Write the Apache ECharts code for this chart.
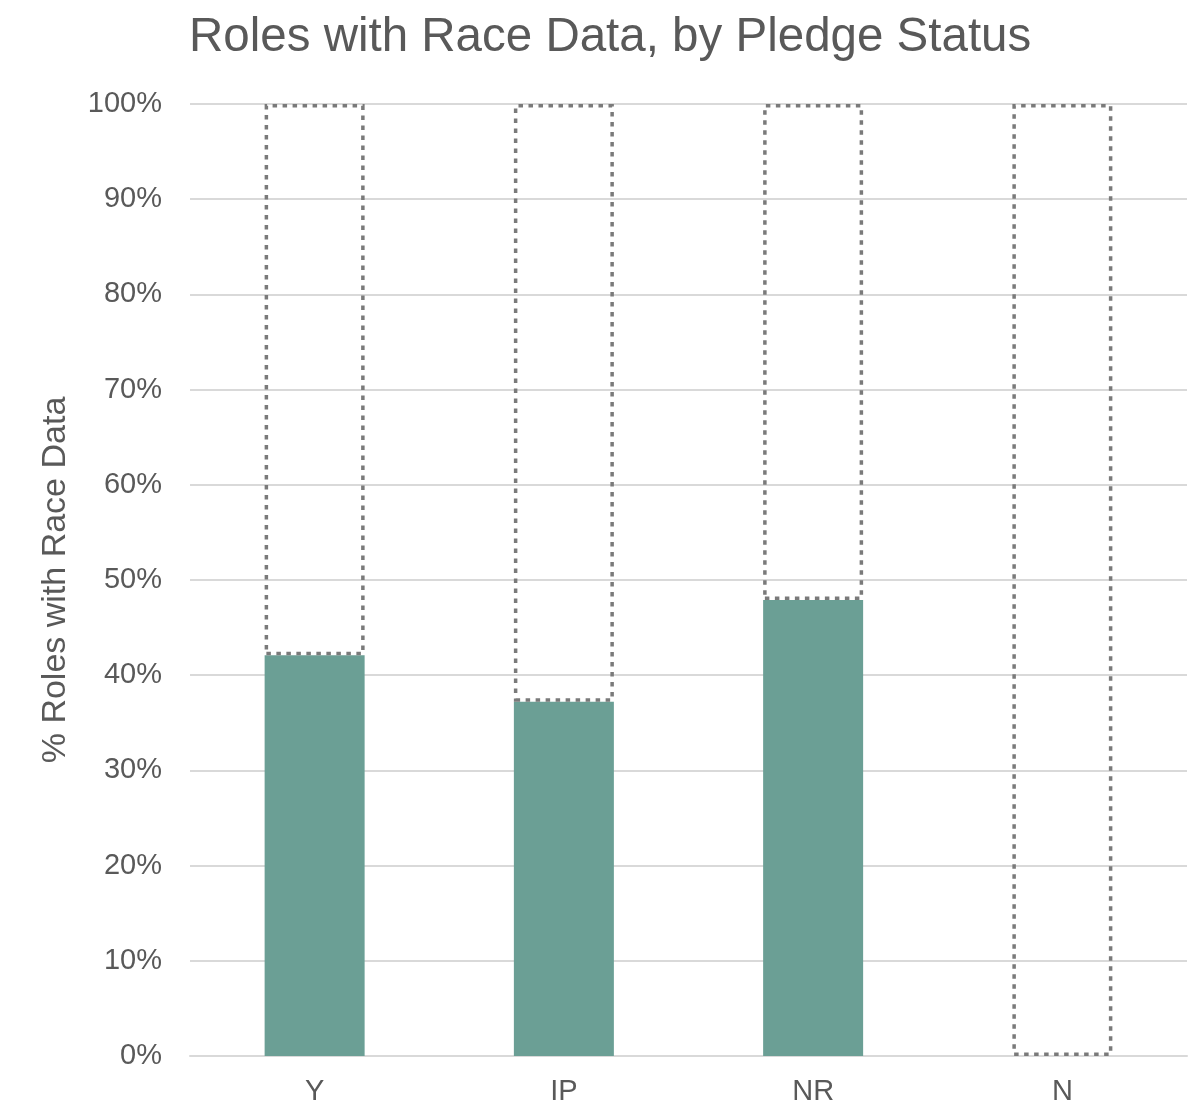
<!DOCTYPE html>
<html>
<head>
<meta charset="utf-8">
<script src="https://cdn.jsdelivr.net/npm/echarts@6/dist/echarts.min.js"></script>
<style>
  html, body { margin: 0; padding: 0; background: #fff; }
  #main { width: 1203px; height: 1107px; }
</style>
</head>
<body>
<div id="main"></div>
<script>
var myChart = echarts.init(document.getElementById('main'));

// 数据
var categories = ['Y', 'IP', 'NR', 'N'];
var withRace = [42.1, 37.2, 47.9, 0];
var yTicks = [0, 10, 20, 30, 40, 50, 60, 70, 80, 90, 100];

// 剩余部分（虚线框）
var remaining = withRace.map(function (v) { return 100 - v; });

var textColor = '#595959';
var font = 'Liberation Sans, Arial, sans-serif';

option = {
  title: {
    text: 'Roles with Race Data, by Pledge Status',
    left: 184,
    top: 9,
    textStyle: {
      color: textColor,
      fontFamily: font,
      fontSize: 47.5,
      fontWeight: 'normal'
    }
  },
  grid: {
    left: 190,
    right: 16,
    top: 104,
    bottom: 51
  },
  xAxis: {
    type: 'category',
    data: categories,
    axisTick: { show: false },
    axisLine: { lineStyle: { color: '#d9d9d9', width: 2 } },
    axisLabel: {
      color: textColor,
      fontFamily: font,
      fontSize: 29,
      margin: 21
    }
  },
  yAxis: {
    type: 'value',
    min: 0,
    max: 100,
    interval: 10,
    name: '% Roles with Race Data',
    nameLocation: 'middle',
    nameGap: 117,
    nameTextStyle: {
      color: textColor,
      fontFamily: font,
      fontSize: 34
    },
    axisLabel: {
      color: textColor,
      fontFamily: font,
      fontSize: 29,
      margin: 28,
      formatter: function (v) {
        return yTicks.indexOf(v) >= 0 ? v + '%' : '';
      }
    },
    splitLine: { lineStyle: { color: '#d9d9d9', width: 2 } }
  },
  series: [
    {
      name: 'With race data',
      type: 'bar',
      stack: 'total',
      barWidth: 100,
      data: withRace,
      itemStyle: { color: '#6b9f95' },
      z: 2
    },
    {
      name: 'Remaining',
      type: 'bar',
      stack: 'total',
      barWidth: 100,
      data: remaining,
      itemStyle: {
        color: 'rgba(0,0,0,0)',
        borderColor: '#7a7a7a',
        borderWidth: 3.5,
        borderType: [4.5, 5.5]
      },
      z: 3
    }
  ]
};

myChart.setOption(option);
</script>
</body>
</html>
